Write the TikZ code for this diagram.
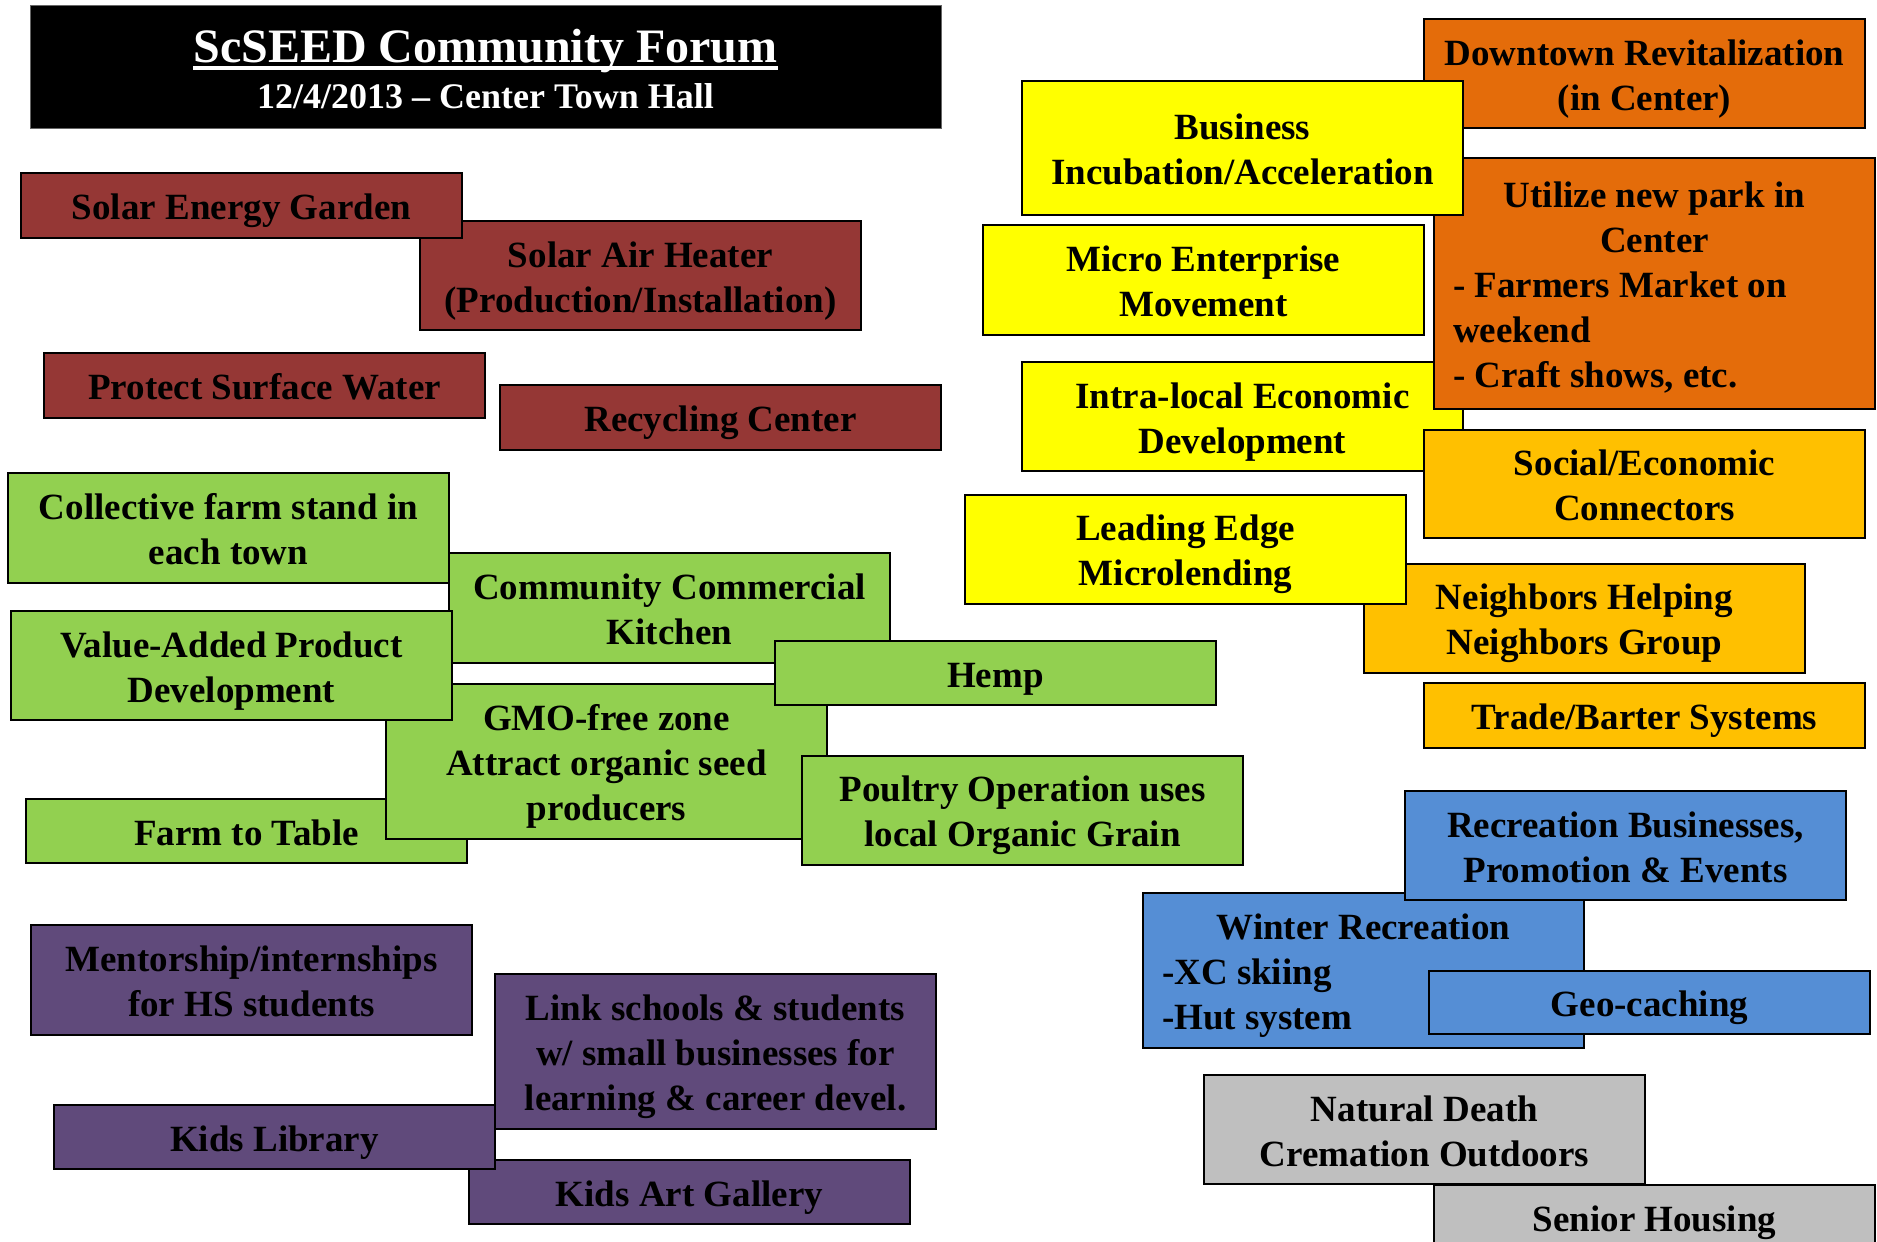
\documentclass[tikz,border=0pt]{standalone}
\usepackage{fontspec}
\setmainfont{Liberation Serif}
\definecolor{cRed}{HTML}{953735}
\definecolor{cGreen}{HTML}{92D050}
\definecolor{cYellow}{HTML}{FFFF00}
\definecolor{cOrange}{HTML}{E46C0A}
\definecolor{cAmber}{HTML}{FFC000}
\definecolor{cBlue}{HTML}{558ED5}
\definecolor{cPurple}{HTML}{604A7B}
\definecolor{cGrey}{HTML}{BFBFBF}
\newcommand{\botstrut}{\rule[-8pt]{0pt}{8pt}}
\tikzset{
  card/.style={draw=black, line width=2pt, anchor=north west, minimum width=441pt,
    inner xsep=6pt, inner ysep=0pt, text width=429pt, align=flush center, text=black,
    execute at begin node={\rule{0pt}{36pt}}, execute at end node={\botstrut},
    font=\fontsize{37}{45}\selectfont\bfseries},
  leftcard/.style={text width=403pt, inner xsep=19pt, align=flush left},
  redcard/.style={card, fill=cRed},
  greencard/.style={card, fill=cGreen},
  yellowcard/.style={card, fill=cYellow},
  orangecard/.style={card, fill=cOrange},
  ambercard/.style={card, fill=cAmber},
  bluecard/.style={card, fill=cBlue},
  purplecard/.style={card, fill=cPurple},
  greycard/.style={card, fill=cGrey},
  titletext/.style={text=white, anchor=base, inner sep=0pt}
}
\begin{document}
\begin{tikzpicture}[x=1pt,y=-1pt]
\useasboundingbox (0,0) rectangle (1877,1242);
% title
\node[draw=black!60, line width=1pt, fill=black, anchor=north west, minimum width=911pt, minimum height=123pt] (title) at (30,5) {};
\node[titletext, font=\fontsize{48}{56}\selectfont\bfseries] (titleA) at (485.5,62) {ScSEED Community Forum};
\draw[white, line width=3.2pt] ([yshift=-6pt]titleA.base west) -- ([yshift=-6pt]titleA.base east);
\node[titletext, font=\fontsize{36}{42}\selectfont\bfseries] (titleB) at (485.5,108) {12/4/2013 -- Center Town Hall};
% red
\node[redcard, minimum height=109pt] (airheater) at (419,220) {Solar Air Heater\\(Production/Installation)};
\node[redcard, minimum height=65pt] (seg) at (20,172) {Solar Energy Garden};
\node[redcard, minimum height=65pt] (psw) at (43,352) {Protect Surface Water};
\node[redcard, minimum height=65pt] (recycle) at (499,384) {Recycling Center};
% green
\node[greencard, minimum height=110pt] (cfs) at (7,472) {Collective farm stand in\\each town};
\node[greencard, minimum height=64pt] (ftt) at (25,798) {Farm to Table};
\node[greencard, minimum height=155pt] (gmo) at (385,683) {GMO-free zone\\Attract organic seed\\producers};
\node[greencard, minimum height=110pt] (cck) at (448,552) {Community Commercial\\Kitchen};
\node[greencard, minimum height=109pt] (va) at (10,610) {Value-Added Product\\Development};
\node[greencard, minimum height=64pt] (hemp) at (774,640) {Hemp};
\node[greencard, minimum height=109pt] (poultry) at (801,755) {Poultry Operation uses\\local Organic Grain};
% orange / yellow / amber
\node[orangecard, minimum height=109pt] (downtown) at (1423,18) {Downtown Revitalization\\(in Center)};
\node[yellowcard, minimum height=109pt] (intra) at (1021,361) {Intra-local Economic\\Development};
\node[orangecard, leftcard, minimum height=251pt] (utilize) at (1433,157)
  {{\centering Utilize new park in\\Center\par}\raggedright - Farmers Market on\\weekend\\- Craft shows, etc.};
\node[yellowcard, minimum height=134pt] (business) at (1021,80) {Business\\Incubation/Acceleration};
\node[yellowcard, minimum height=110pt] (micro) at (982,224) {Micro Enterprise\\Movement};
\node[ambercard, minimum height=108pt] (social) at (1423,429) {Social/Economic\\Connectors};
\node[ambercard, minimum height=109pt] (neighbors) at (1363,563) {Neighbors Helping\\Neighbors Group};
\node[yellowcard, minimum height=109pt] (leading) at (964,494) {Leading Edge\\Microlending};
\node[ambercard, minimum height=65pt] (trade) at (1423,682) {Trade/Barter Systems};
% blue
\node[bluecard, leftcard, minimum height=155pt] (winter) at (1142,892)
  {{\centering Winter Recreation\par}\raggedright -XC skiing\\-Hut system};
\node[bluecard, minimum height=109pt] (recreation) at (1404,790) {Recreation Businesses,\\Promotion \& Events};
\node[bluecard, minimum height=63pt] (geo) at (1428,970) {Geo-caching};
% grey
\node[greycard, minimum height=109pt] (natural) at (1203,1074) {Natural Death\\Cremation Outdoors};
\node[greycard, minimum height=66pt] (senior) at (1433,1184) {Senior Housing};
% purple
\node[purplecard, minimum height=64pt] (kag) at (468,1159) {Kids Art Gallery};
\node[purplecard, minimum height=64pt] (kl) at (53,1104) {Kids Library};
\node[purplecard, minimum height=110pt] (mentor) at (30,924) {Mentorship/internships\\for HS students};
\node[purplecard, minimum height=155pt] (link) at (494,973) {Link schools \& students\\w/ small businesses for\\learning \& career devel.};
\end{tikzpicture}
\end{document}
